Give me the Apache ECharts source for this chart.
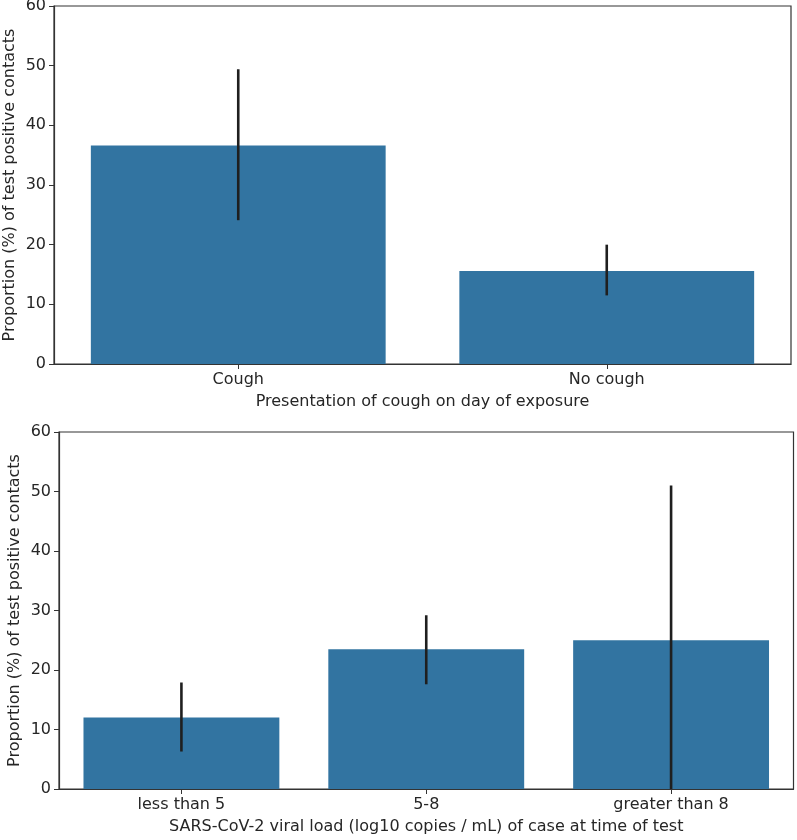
<!DOCTYPE html>
<html><head><meta charset="utf-8">
<script src="https://cdn.jsdelivr.net/npm/echarts@6/dist/echarts.min.js"></script>
<style>html,body{margin:0;padding:0;background:#fff}#c{width:797px;height:840px}</style>
</head><body><div id="c"></div>
<script>
var coughCats = ['Cough', 'No cough'];
var coughVals = [36.6, 15.6];
var coughLow = [24.1, 11.5];
var coughHigh = [49.4, 20.0];

var loadCats = ['less than 5', '5-8', 'greater than 8'];
var loadVals = [12.0, 23.5, 25.0];
var loadLow = [6.3, 17.6, 0];
var loadHigh = [17.9, 29.2, 51.0];

var yTicks = [0, 10, 20, 30, 40, 50, 60];

var FONT = 'DejaVu Sans';
var TXT = '#262626';
var BAR = '#3274a1';
var FS = 16;

function xAxis(idx, cats, name) {
  return {
    type: 'category', gridIndex: idx, data: cats,
    name: name, nameLocation: 'middle', nameGap: 30, nameMoveOverlap: false,
    nameTextStyle: {fontFamily: FONT, fontSize: FS, color: TXT},
    axisLine: {lineStyle: {color: '#333', width: 1.2}},
    axisTick: {show: true, alignWithLabel: true, length: 5, lineStyle: {color: '#333'}},
    axisLabel: {fontFamily: FONT, fontSize: FS, color: TXT, margin: 8},
    splitLine: {show: false}
  };
}
function yAxis(idx) {
  return {
    type: 'value', gridIndex: idx, min: yTicks[0], max: yTicks[yTicks.length - 1], interval: yTicks[1] - yTicks[0],
    name: 'Proportion (%) of test positive contacts', nameLocation: 'middle', nameGap: 36, nameMoveOverlap: false,
    nameTextStyle: {fontFamily: FONT, fontSize: FS, color: TXT},
    axisLine: {show: true, lineStyle: {color: '#333', width: 1.2}},
    axisTick: {show: true, length: 5, lineStyle: {color: '#333'}},
    axisLabel: {fontFamily: FONT, fontSize: FS, color: TXT, margin: 8},
    splitLine: {show: false}
  };
}
function errSeries(idx, low, high) {
  var data = low.map(function (l, i) { return [i, l, high[i]]; });
  return {
    type: 'custom', xAxisIndex: idx, yAxisIndex: idx, data: data, z: 10,
    renderItem: function (params, api) {
      var p1 = api.coord([api.value(0), api.value(1)]);
      var p2 = api.coord([api.value(0), api.value(2)]);
      return {type: 'line', shape: {x1: p1[0], y1: p1[1], x2: p2[0], y2: p2[1]},
        style: {stroke: '#1f1f1f', lineWidth: 2.6}};
    }
  };
}
var chart = echarts.init(document.getElementById('c'), null, {renderer: 'canvas'});
chart.setOption({
  animation: false,
  backgroundColor: '#fff',
  grid: [
    {left: 54, right: 6, top: 6, height: 358, outerBoundsMode: 'none', containLabel: false, show: true, borderColor: '#333', borderWidth: 1.2, backgroundColor: 'transparent'},
    {left: 59, right: 3.5, top: 432, height: 357, outerBoundsMode: 'none', containLabel: false, show: true, borderColor: '#333', borderWidth: 1.2, backgroundColor: 'transparent'}
  ],
  xAxis: [xAxis(0, coughCats, 'Presentation of cough on day of exposure'),
          xAxis(1, loadCats, 'SARS-CoV-2 viral load (log10 copies / mL) of case at time of test')],
  yAxis: [yAxis(0), yAxis(1)],
  series: [
    {type: 'bar', xAxisIndex: 0, yAxisIndex: 0, data: coughVals, barWidth: '80%', itemStyle: {color: BAR}},
    errSeries(0, coughLow, coughHigh),
    {type: 'bar', xAxisIndex: 1, yAxisIndex: 1, data: loadVals, barWidth: '80%', itemStyle: {color: BAR}},
    errSeries(1, loadLow, loadHigh)
  ]
});
</script></body></html>
